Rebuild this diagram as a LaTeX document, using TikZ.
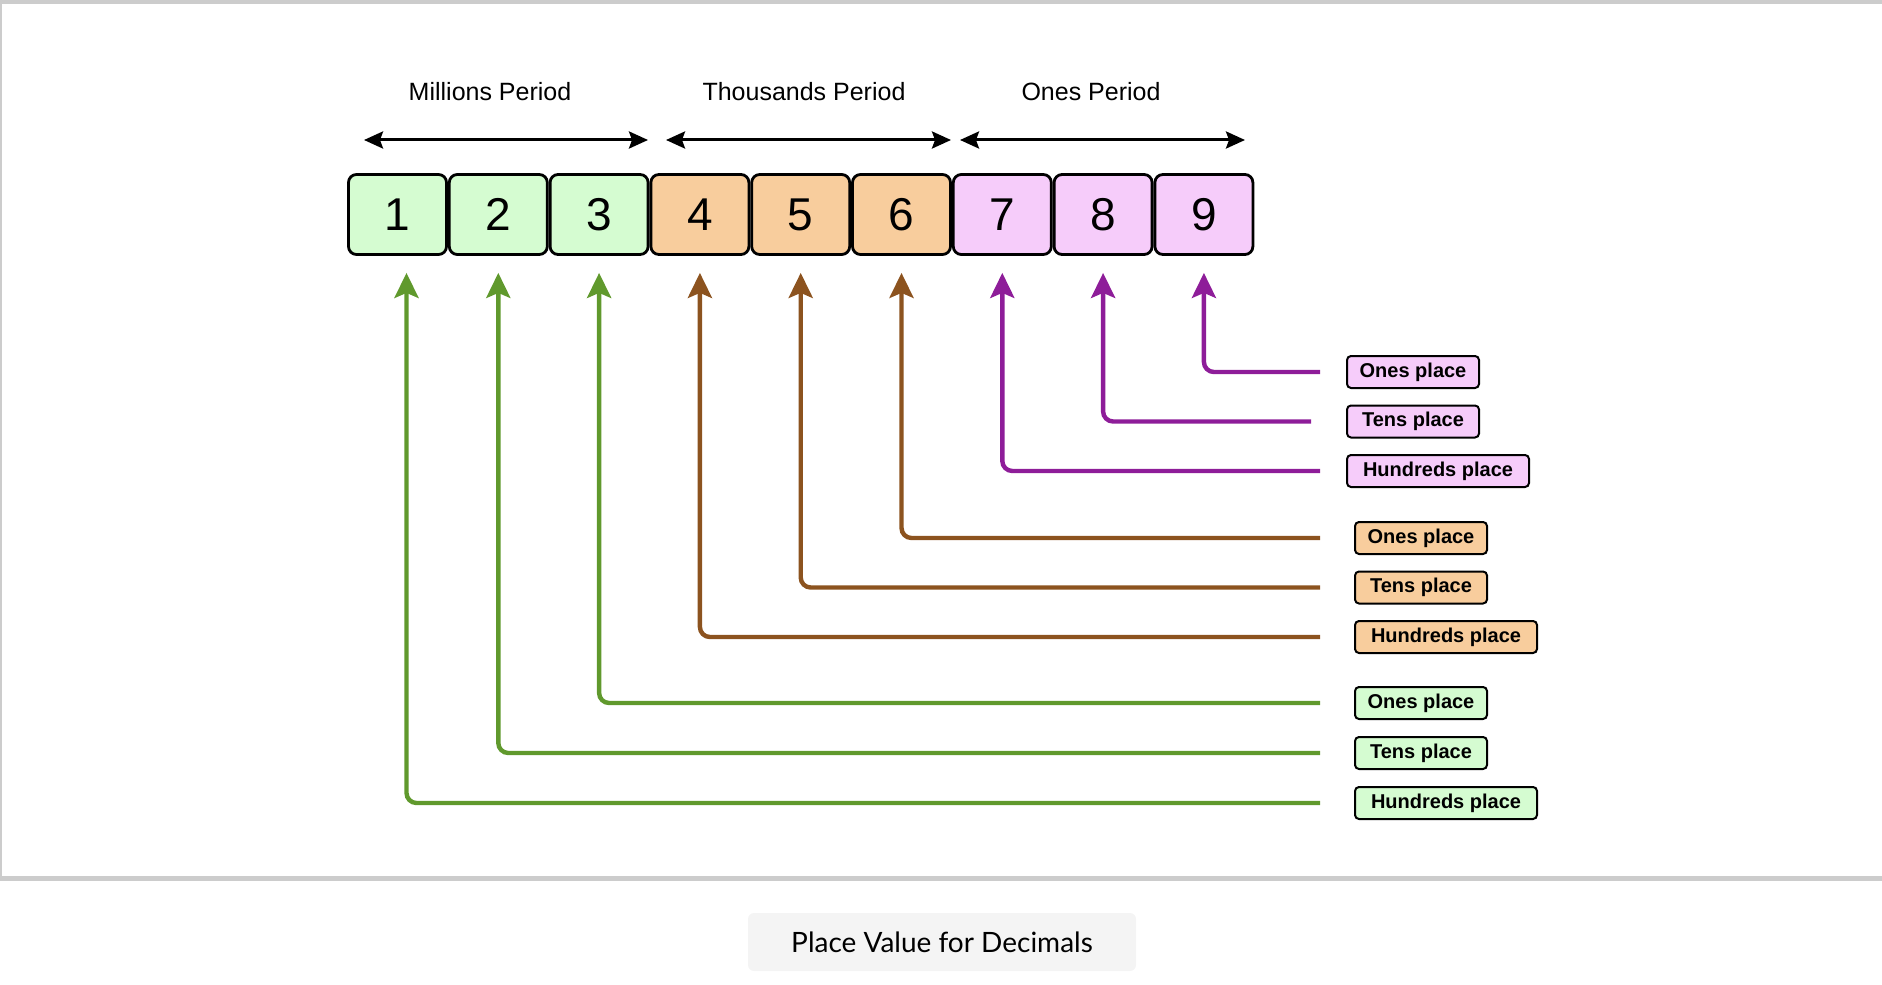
\documentclass[tikz,border=0pt]{standalone}
\usepackage{fontspec}
\setmainfont{Liberation Sans}
\newfontfamily\captionfont{Lato}
\usetikzlibrary{arrows.meta, positioning}

\definecolor{millfill}{HTML}{D5FCD1}
\definecolor{thoufill}{HTML}{F8CD9D}
\definecolor{onesfill}{HTML}{F6CCFA}
\definecolor{millline}{HTML}{60992D}
\definecolor{thouline}{HTML}{8C531F}
\definecolor{onesline}{HTML}{8E1D99}
\definecolor{framegray}{HTML}{CCCCCC}
\definecolor{capfill}{HTML}{F4F4F4}

\begin{document}
\begin{tikzpicture}[
    x=0.5pt, y=-0.5pt,
    digit/.style={draw, line width=1.4pt, rounded corners=4pt, minimum width=49pt,
                  minimum height=40pt, inner sep=0pt, font=\fontsize{23}{23}\selectfont},
    place/.style={draw, line width=1pt, rounded corners=2pt, minimum width=66pt,
                  minimum height=16pt, inner sep=0pt, anchor=west,
                  font=\fontsize{10}{12}\selectfont\bfseries},
    wide/.style={minimum width=91pt},
    period/.style={font=\fontsize{12.5}{14}\selectfont},
    span/.style={{Stealth[length=9.5pt, width=8.5pt, inset=1.5pt]}-{Stealth[length=9.5pt, width=8.5pt, inset=1.5pt]},
                 line width=1.5pt},
    pointer/.style={-{Stealth[length=12.5pt, width=12pt, inset=2.5pt]}, line width=2.2pt,
                    rounded corners=5pt},
    node distance=0pt,
  ]
    \useasboundingbox (0,0) rectangle (1882,984);

    % frame of the top panel
    \fill[framegray] (0,0) rectangle (1882,4);
    \fill[framegray] (0,0) rectangle (2,881);
    \fill[framegray] (0,876) rectangle (1882,881);

    % periods
    \node[period] (millions) at (490,92)  {Millions Period};
    \node[period] (thousands) at (804,92) {Thousands Period};
    \node[period] (onesper) at (1091,92)  {Ones Period};

    \coordinate (mL) at (364,140);  \coordinate (mR) at (648,140);
    \coordinate (tL) at (666,140);  \coordinate (tR) at (951,140);
    \coordinate (oL) at (960,140);  \coordinate (oR) at (1245,140);
    \draw[span] (mL) -- (mR);
    \draw[span] (tL) -- (tR);
    \draw[span] (oL) -- (oR);

    % digits
    \node[digit, fill=millfill] (d1) at (397.5,214.5) {1};
    \node[digit, fill=millfill] (d2) [right=of d1] {2};
    \node[digit, fill=millfill] (d3) [right=of d2] {3};
    \node[digit, fill=thoufill] (d4) [right=of d3] {4};
    \node[digit, fill=thoufill] (d5) [right=of d4] {5};
    \node[digit, fill=thoufill] (d6) [right=of d5] {6};
    \node[digit, fill=onesfill] (d7) [right=of d6] {7};
    \node[digit, fill=onesfill] (d8) [right=of d7] {8};
    \node[digit, fill=onesfill] (d9) [right=of d8] {9};

    % place labels
    \node[place, fill=onesfill] (p9) at (1346,372)         {Ones place};
    \node[place, fill=onesfill] (p8) at (1346,421.5)       {Tens place};
    \node[place, wide, fill=onesfill] (p7) at (1346,471)   {Hundreds place};
    \node[place, fill=thoufill] (p6) at (1354,538)         {Ones place};
    \node[place, fill=thoufill] (p5) at (1354,587.5)       {Tens place};
    \node[place, wide, fill=thoufill] (p4) at (1354,637)   {Hundreds place};
    \node[place, fill=millfill] (p3) at (1354,703)         {Ones place};
    \node[place, fill=millfill] (p2) at (1354,753)         {Tens place};
    \node[place, wide, fill=millfill] (p1) at (1354,803)   {Hundreds place};

    % pointers
    \draw[pointer, onesline, shorten <=13pt]   (p9.west) -| ([yshift=-8.5pt]d9.south);
    \draw[pointer, onesline, shorten <=17.5pt] (p8.west) -| ([yshift=-8.5pt]d8.south);
    \draw[pointer, onesline, shorten <=13pt]   (p7.west) -| ([yshift=-8.5pt]d7.south);
    \draw[pointer, thouline, shorten <=17pt]   (p6.west) -| ([yshift=-8.5pt]d6.south);
    \draw[pointer, thouline, shorten <=17pt]   (p5.west) -| ([yshift=-8.5pt]d5.south);
    \draw[pointer, thouline, shorten <=17pt]   (p4.west) -| ([yshift=-8.5pt]d4.south);
    \draw[pointer, millline, shorten <=17pt]   (p3.west) -| ([yshift=-8.5pt]d3.south);
    \draw[pointer, millline, shorten <=17pt]   (p2.west) -| ([yshift=-8.5pt]d2.south);
    \draw[pointer, millline, shorten <=17pt]   (p1.west) -| ([xshift=4.5pt, yshift=-8.5pt]d1.south);

    % caption
    \node[fill=capfill, rounded corners=3pt, minimum width=194pt, minimum height=29pt,
          font=\captionfont\fontsize{14}{16}\selectfont] (caption) at (942,942)
      {Place Value for Decimals};
  \end{tikzpicture}
\end{document}
